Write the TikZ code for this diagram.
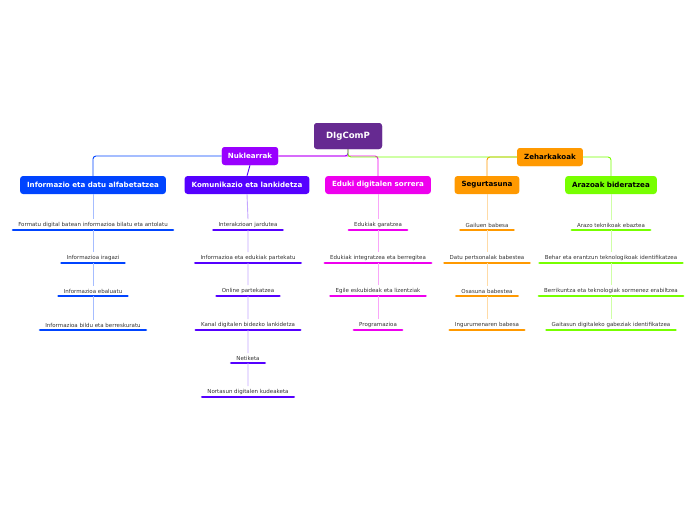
\documentclass[tikz,border=0pt]{standalone}
\usepackage{fontspec}
\setmainfont{DejaVu Sans}
\usepackage{xcolor}
\usetikzlibrary{positioning}
\definecolor{rootc}{RGB}{102,42,145}
\definecolor{nukc}{RGB}{153,0,255}
\definecolor{infoc}{RGB}{0,68,255}
\definecolor{komc}{RGB}{85,0,255}
\definecolor{edkc}{RGB}{238,0,238}
\definecolor{segc}{RGB}{255,153,0}
\definecolor{arzc}{RGB}{119,255,0}
\tikzset{
  topic/.style={rounded corners=3pt,inner xsep=7pt,minimum height=18pt,font=\fontsize{7.1}{8}\selectfont\bfseries},
  rootbox/.style={topic,fill=rootc,text=white,minimum height=26pt,minimum width=68pt,font=\fontsize{8.6}{10}\selectfont\bfseries},
  leaf/.style={anchor=south,inner xsep=5pt,inner ysep=2.6pt,font=\fontsize{5.5}{6}\selectfont,text=black!80},
  ul/.style={line width=2.8pt,line cap=round},
  link/.style={line width=0.9pt,rounded corners=3pt},
  sub/.style={line width=0.9pt}
}
\newcommand{\leaf}[5]{\node[leaf] (#1) at (#2,#3) {#5};
  \draw[ul,#4] (#1.south west) -- (#1.south east);}

\begin{document}
\begin{tikzpicture}[x=1pt,y=-1pt]
\useasboundingbox (0,0) rectangle (696,520);
% main topics
\node[rootbox] (root) at (348,136) {DIgComP};
\node[topic,fill=nukc,text=white,inner xsep=6pt] (nukleo) at (250,156) {Nuklearrak};
\node[topic,fill=segc,text=black] (zehark) at (550,157) {Zeharkakoak};
\node[topic,fill=infoc,text=white] (info) at (93,185) {Informazio eta datu alfabetatzea};
\node[topic,fill=komc,text=white] (komun) at (247,185) {Komunikazio eta lankidetza};
\node[topic,fill=edkc,text=white] (eduki) at (378,185) {Eduki digitalen sorrera};
\node[topic,fill=segc,text=black] (segur) at (487,185) {Segurtasuna};
\node[topic,fill=arzc,text=black] (arazo) at (611,185) {Arazoak bideratzea};
% branch lines
\draw[link,edkc] (nukleo.east) -| (eduki.north);
\draw[link,segc] (zehark.west) -| (segur.north);
\draw[link,nukc] (root.south) |- (nukleo.east);
\draw[link,arzc] (root.south) |- (zehark.west);
\draw[link,infoc] (nukleo.west) -| (info.north);
\draw[link,komc] (nukleo.south) -- (komun.north);
\draw[link,arzc] (zehark.east) -| (arazo.north);
% redraw topics over the lines
\node[rootbox] at (root) {DIgComP};
\node[topic,fill=nukc,text=white,inner xsep=6pt] at (nukleo) {Nuklearrak};
\node[topic,fill=segc,text=black] at (zehark) {Zeharkakoak};
% Informazio eta datu alfabetatzea
\leaf{info1}{93}{230}{infoc}{Formatu digital batean informazioa bilatu eta antolatu}
\leaf{info2}{93}{263}{infoc}{Informazioa iragazi}
\leaf{info3}{93}{296}{infoc}{Informazioa ebaluatu}
\leaf{info4}{93}{330}{infoc}{Informazioa bildu eta berreskuratu}
\draw[sub,infoc!35] (info.south) -- (info1.north) (info1.south) -- (info2.north)
  (info2.south) -- (info3.north) (info3.south) -- (info4.north);
% Komunikazio eta lankidetza
\leaf{komun1}{248}{230}{komc}{Interakzioan jardutea}
\leaf{komun2}{248}{263}{komc}{Informazioa eta edukiak partekatu}
\leaf{komun3}{248}{296}{komc}{Online partekatzea}
\leaf{komun4}{248}{330}{komc}{Kanal digitalen bidezko lankidetza}
\leaf{komun5}{248}{363}{komc}{Netiketa}
\leaf{komun6}{248}{397}{komc}{Nortasun digitalen kudeaketa}
\draw[sub,komc!35] (komun.south) -- (komun1.north) (komun1.south) -- (komun2.north)
  (komun2.south) -- (komun3.north) (komun3.south) -- (komun4.north)
  (komun4.south) -- (komun5.north) (komun5.south) -- (komun6.north);
% Eduki digitalen sorrera
\leaf{eduki1}{378}{230}{edkc}{Edukiak garatzea}
\leaf{eduki2}{378}{263}{edkc}{Edukiak integratzea eta berregitea}
\leaf{eduki3}{378}{296}{edkc}{Egile eskubideak eta lizentziak}
\leaf{eduki4}{378}{330}{edkc}{Programazioa}
\draw[sub,edkc!35] (eduki.south) -- (eduki1.north) (eduki1.south) -- (eduki2.north)
  (eduki2.south) -- (eduki3.north) (eduki3.south) -- (eduki4.north);
% Segurtasuna
\leaf{segur1}{487}{230}{segc}{Gailuen babesa}
\leaf{segur2}{487}{263}{segc}{Datu pertsonalak babestea}
\leaf{segur3}{487}{296}{segc}{Osasuna babestea}
\leaf{segur4}{487}{330}{segc}{Ingurumenaren babesa}
\draw[sub,segc!35] (segur.south) -- (segur1.north) (segur1.south) -- (segur2.north)
  (segur2.south) -- (segur3.north) (segur3.south) -- (segur4.north);
% Arazoak bideratzea
\leaf{arazo1}{611}{230}{arzc}{Arazo teknikoak ebaztea}
\leaf{arazo2}{611}{263}{arzc}{Behar eta erantzun teknologikoak identifikatzea}
\leaf{arazo3}{611}{296}{arzc}{Berrikuntza eta teknologiak sormenez erabiltzea}
\leaf{arazo4}{611}{330}{arzc}{Gaitasun digitaleko gabeziak identifikatzea}
\draw[sub,arzc!35] (arazo.south) -- (arazo1.north) (arazo1.south) -- (arazo2.north)
  (arazo2.south) -- (arazo3.north) (arazo3.south) -- (arazo4.north);
\end{tikzpicture}
\end{document}
